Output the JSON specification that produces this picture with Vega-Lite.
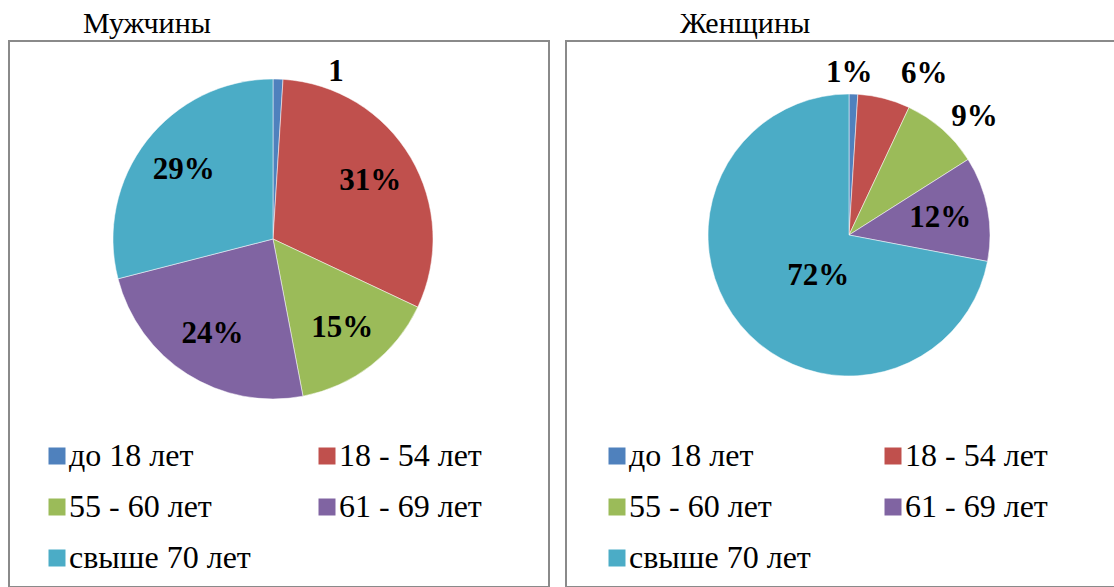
{
  "$schema": "https://vega.github.io/schema/vega-lite/v6.json",
  "padding": {"left": 8, "top": 8, "right": 0, "bottom": 0},
  "spacing": 15,
  "datasets": {
    "men": [
      {"group": "до 18 лет", "value": 1, "label": "1", "order": 1},
      {"group": "18 - 54 лет", "value": 31, "label": "31%", "order": 2},
      {"group": "55 - 60 лет", "value": 15, "label": "15%", "order": 3},
      {"group": "61 - 69 лет", "value": 24, "label": "24%", "order": 4},
      {"group": "свыше 70 лет", "value": 29, "label": "29%", "order": 5}
    ],
    "women": [
      {"group": "до 18 лет", "value": 1, "label": "1%", "order": 1},
      {"group": "18 - 54 лет", "value": 6, "label": "6%", "order": 2},
      {"group": "55 - 60 лет", "value": 9, "label": "9%", "order": 3},
      {"group": "61 - 69 лет", "value": 12, "label": "12%", "order": 4},
      {"group": "свыше 70 лет", "value": 72, "label": "72%", "order": 5}
    ]
  },
  "config": {
    "view": {"stroke": "#8a8a8a", "strokeWidth": 2},
    "legend": {"orient": "none"}
  },
  "resolve": {"scale": {"color": "independent"}, "legend": {"color": "independent"}},
  "hconcat": [
    {
      "title": {"text": "Мужчины", "dx": 74, "font": "Liberation Serif", "fontSize": 30, "fontWeight": "normal", "color": "#000000", "anchor": "start", "offset": 2},
      "width": 540,
      "height": 546,
      "view": {"stroke": "#8a8a8a", "strokeWidth": 2},
      "data": {"name": "men"},
      "encoding": {
        "theta": {"field": "value", "type": "quantitative", "stack": true},
        "order": {"field": "order", "type": "quantitative"}
      },
      "layer": [
        {
          "mark": {"type": "arc", "x": 264, "y": 198, "radius": 160, "stroke": "#ffffff", "strokeWidth": 0.5},
          "encoding": {
            "color": {
              "field": "group", "type": "nominal",
              "scale": {"domain": ["до 18 лет", "18 - 54 лет", "55 - 60 лет", "61 - 69 лет", "свыше 70 лет"],
                        "range": ["#4F81BD", "#C0504D", "#9BBB59", "#8064A2", "#4BACC6"]},
              "legend": {"title": null, "orient": "none", "legendX": 32, "legendY": 399, "direction": "horizontal", "columns": 2, "columnPadding": 60, "rowPadding": 19,
                         "symbolType": "square", "symbolSize": 289, "symbolStrokeWidth": 0, "labelFont": "Liberation Serif", "labelFontSize": 32, "labelColor": "#000000", "labelOffset": -4, "labelLimit": 400, "padding": 0}
            }
          }
        },
        {
          "mark": {"type": "text", "x": 264, "y": 198, "radius": 113, "font": "Liberation Serif", "fontSize": 31, "fontWeight": "bold", "color": "#000000"},
          "encoding": {
            "text": {"condition": {"test": "datum.group !== 'до 18 лет'", "field": "label"}, "value": ""}
          }
        },
        {
          "mark": {"type": "text", "x": 264, "y": 198, "radius": 178, "thetaOffset": 0.33, "font": "Liberation Serif", "fontSize": 31, "fontWeight": "bold", "color": "#000000"},
          "encoding": {
            "text": {"condition": {"test": "datum.group === 'до 18 лет'", "field": "label"}, "value": ""}
          }
        }
      ]
    },
    {
      "title": {"text": "Женщины", "dx": 114, "font": "Liberation Serif", "fontSize": 30, "fontWeight": "normal", "color": "#000000", "anchor": "start", "offset": 2},
      "width": 550,
      "height": 546,
      "view": {"stroke": "#8a8a8a", "strokeWidth": 2},
      "data": {"name": "women"},
      "encoding": {
        "theta": {"field": "value", "type": "quantitative", "stack": true},
        "order": {"field": "order", "type": "quantitative"}
      },
      "layer": [
        {
          "mark": {"type": "arc", "x": 283, "y": 194, "radius": 141, "stroke": "#ffffff", "strokeWidth": 0.5},
          "encoding": {
            "color": {
              "field": "group", "type": "nominal",
              "scale": {"domain": ["до 18 лет", "18 - 54 лет", "55 - 60 лет", "61 - 69 лет", "свыше 70 лет"],
                        "range": ["#4F81BD", "#C0504D", "#9BBB59", "#8064A2", "#4BACC6"]},
              "legend": {"title": null, "orient": "none", "legendX": 35, "legendY": 399, "direction": "horizontal", "columns": 2, "columnPadding": 66, "rowPadding": 19,
                         "symbolType": "square", "symbolSize": 289, "symbolStrokeWidth": 0, "labelFont": "Liberation Serif", "labelFontSize": 32, "labelColor": "#000000", "labelOffset": -4, "labelLimit": 400, "padding": 0}
            }
          }
        },
        {
          "mark": {"type": "text", "x": 283, "y": 194, "radius": 162, "thetaOffset": -0.03, "font": "Liberation Serif", "fontSize": 31, "fontWeight": "bold", "color": "#000000"},
          "encoding": {
            "text": {"condition": {"test": "datum.group === 'до 18 лет'", "field": "label"}, "value": ""}
          }
        },
        {
          "mark": {"type": "text", "x": 283, "y": 194, "radius": 178, "thetaOffset": 0.185, "font": "Liberation Serif", "fontSize": 31, "fontWeight": "bold", "color": "#000000"},
          "encoding": {
            "text": {"condition": {"test": "datum.group === '18 - 54 лет'", "field": "label"}, "value": ""}
          }
        },
        {
          "mark": {"type": "text", "x": 283, "y": 194, "radius": 172, "thetaOffset": 0.096, "font": "Liberation Serif", "fontSize": 31, "fontWeight": "bold", "color": "#000000"},
          "encoding": {
            "text": {"condition": {"test": "datum.group === '55 - 60 лет'", "field": "label"}, "value": ""}
          }
        },
        {
          "mark": {"type": "text", "x": 283, "y": 194, "radius": 93, "font": "Liberation Serif", "fontSize": 31, "fontWeight": "bold", "color": "#000000"},
          "encoding": {
            "text": {"condition": {"test": "datum.group === '61 - 69 лет'", "field": "label"}, "value": ""}
          }
        },
        {
          "mark": {"type": "text", "x": 283, "y": 194, "radius": 51, "thetaOffset": -0.23, "font": "Liberation Serif", "fontSize": 31, "fontWeight": "bold", "color": "#000000"},
          "encoding": {
            "text": {"condition": {"test": "datum.group === 'свыше 70 лет'", "field": "label"}, "value": ""}
          }
        }
      ]
    }
  ]
}
